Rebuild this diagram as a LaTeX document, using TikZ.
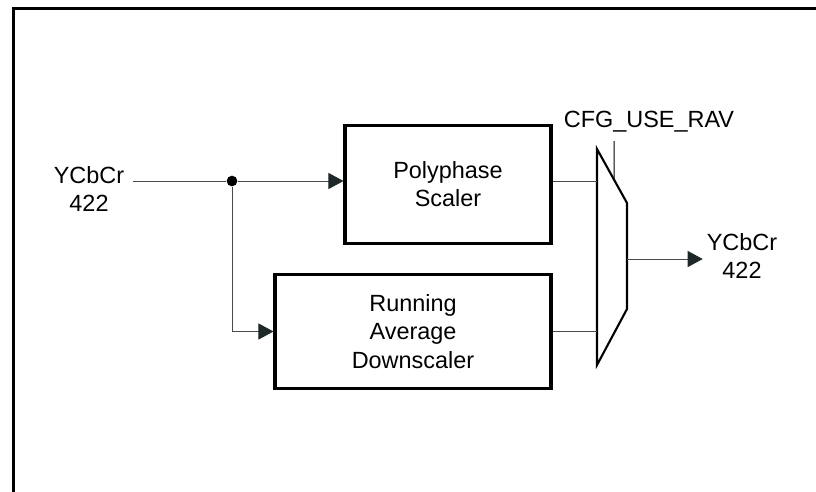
\documentclass[tikz,border=0pt]{standalone}
\usepackage{fontspec}
\setmainfont{Liberation Sans}
\usetikzlibrary{arrows.meta,calc}
\definecolor{wire}{HTML}{4A4A4A}
\definecolor{tipfill}{HTML}{1E2828}
\tikzset{
  blockbox/.style={draw, rectangle, line width=2.6pt, align=center, font=\fontsize{20}{24}\selectfont},
  wireline/.style={draw=wire, line width=0.85pt},
  sig/.style={wireline, -{Triangle[length=4.5mm,width=4.8mm,fill=tipfill,color=tipfill]}},
  lbl/.style={align=center, font=\fontsize{20}{24}\selectfont},
}
\begin{document}
\begin{tikzpicture}[x=0.03cm,y=-0.03cm]
\clip (0,0) rectangle (816,491);
% frame
\draw[line width=2.6pt] (13.5,520) -- (13.5,8.5) -- (840,8.5);
% blocks
\node[blockbox, minimum width=6.18cm, minimum height=3.54cm] (poly) at (448,184.5) {Polyphase\\Scaler};
\node[blockbox, minimum width=8.28cm, minimum height=3.42cm] (rav) at (413,331.5) {Running\\Average\\Downscaler};
\node[lbl] (yin) at (89,189) {YCbCr\\422};
\node[lbl] (yout) at (742,256) {YCbCr\\422};
\node[lbl] (cfg) at (649,122) {CFG\_USE\_RAV};
\node[circle, fill=black, inner sep=0pt, minimum size=0.32cm] (split) at (232,181) {};
% mux
\coordinate (m1) at (597,149);
\coordinate (m2) at (627,203);
\coordinate (m3) at (627,309);
\coordinate (m4) at (597,365);
\coordinate (mo) at (627,259);
\coordinate (selin) at (614,141);
\coordinate (sel) at ($(m1)!0.567!(m2)$);
\draw[line width=1.8pt, line join=miter] (m1) -- (m2) -- (m3) -- (m4) -- cycle;
% connectors
\draw[wireline, shorten <=1.5mm] (yin.east |- split) -- (split);
\draw[sig] (split) -- (split -| poly.west);
\draw[sig] (split) |- (rav.west);
\draw[wireline] (poly.east |- split) -- (m1 |- split);
\draw[wireline] (rav.east) -- (rav.east -| m1);
\draw[line width=0.85pt] (selin) -- (sel);
\draw[sig] (mo) -- (mo -| yout.west);
\end{tikzpicture}
\end{document}
